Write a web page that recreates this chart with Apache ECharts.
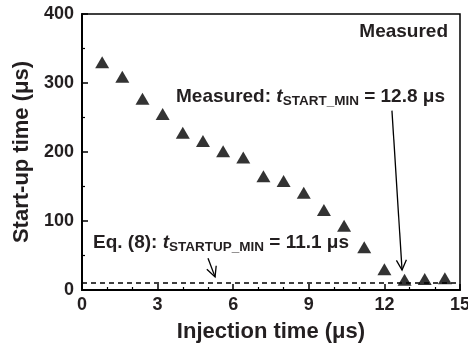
<!DOCTYPE html>
<html><head><meta charset="utf-8">
<script src="https://cdn.jsdelivr.net/npm/echarts@6/dist/echarts.min.js"></script>
<style>html,body{margin:0;padding:0;background:#fff}#c{width:468px;height:347px}</style>
</head><body><div id="c"></div>
<script>
// ---- data ----
const injectionTime = [0.8, 1.6, 2.4, 3.2, 4.0, 4.8, 5.6, 6.4, 7.2, 8.0, 8.8, 9.6, 10.4, 11.2, 12.0, 12.8, 13.6, 14.4];
const startupTime   = [330, 309, 277, 255, 228, 216, 201, 192, 165, 158, 141, 116, 93, 62, 30, 15, 16, 17];
const eq8Level = 11.1;
const xRange = [0, 15, 3];
const yRange = [0, 400, 100];
// annotation anchors (data coords)
const measuredArrow = [[12.3, 260], [12.7, 29]];
const eqArrow = [[5.0, 46], [5.28, 19]];

const FONT = "'Liberation Sans', Arial, sans-serif";
const TXT = '#231f20';
const chart = echarts.init(document.getElementById('c'), null, {renderer: 'canvas'});

const option = {
  animation: false,
  grid: {left: 82, right: 8, top: 14, bottom: 57, containLabel: false, outerBoundsMode: 'none',
         show: true, borderColor: '#000', borderWidth: 1.5, backgroundColor: 'transparent'},
  xAxis: {
    type: 'value', min: xRange[0], max: xRange[1], interval: xRange[2],
    name: 'Injection time (μs)', nameLocation: 'middle', nameGap: 31,
    nameTextStyle: {fontFamily: FONT, fontWeight: 'bold', fontSize: 22, color: TXT},
    axisLine: {show: true, onZero: false, lineStyle: {color: '#000', width: 2}},
    axisTick: {show: true, inside: true, length: 6, lineStyle: {color: '#000', width: 1.5}},
    minorTick: {show: true, splitNumber: 3, length: 3, lineStyle: {color: '#000', width: 1.2}},
    splitLine: {show: false},
    axisLabel: {fontFamily: FONT, fontWeight: 'bold', fontSize: 18, color: TXT, margin: 6}
  },
  yAxis: {
    type: 'value', min: yRange[0], max: yRange[1], interval: yRange[2],
    name: 'Start-up time (μs)', nameLocation: 'middle', nameGap: 48,
    nameTextStyle: {fontFamily: FONT, fontWeight: 'bold', fontSize: 22, color: TXT},
    axisLine: {show: true, onZero: false, lineStyle: {color: '#000', width: 2}},
    axisTick: {show: true, inside: true, length: 6, lineStyle: {color: '#000', width: 1.5}},
    minorTick: {show: true, splitNumber: 2, length: 3, lineStyle: {color: '#000', width: 1.2}},
    splitLine: {show: false},
    axisLabel: {fontFamily: FONT, fontWeight: 'bold', fontSize: 18, color: TXT, margin: 8}
  },
  series: [{
    type: 'scatter',
    data: injectionTime.map((x, i) => [x, startupTime[i]]),
    symbol: 'triangle', symbolSize: [14, 12],
    itemStyle: {color: '#000'},
    z: 5,
    markLine: {
      silent: true, symbol: 'none', label: {show: false},
      lineStyle: {color: '#000', type: [5, 4], width: 1.5},
      data: [{yAxis: eq8Level}]
    }
  }]
};
chart.setOption(option);

function px(p) { return chart.convertToPixel({gridIndex: 0}, p); }
function arrow(a, b) {
  const p0 = px(a), p1 = px(b);
  const dx = p1[0] - p0[0], dy = p1[1] - p0[1];
  const L = Math.hypot(dx, dy), ux = dx / L, uy = dy / L;
  const hl = 10, hw = 5;
  const bx = p1[0] - ux * hl, by = p1[1] - uy * hl;
  const w1 = [bx - uy * hw, by + ux * hw], w2 = [bx + uy * hw, by - ux * hw];
  return [
    {type: 'polyline', shape: {points: [p0, p1]}, style: {stroke: '#000', lineWidth: 1.3, fill: null}, z: 10},
    {type: 'polyline', shape: {points: [w1, p1, w2]}, style: {stroke: '#000', lineWidth: 1.3, fill: null}, z: 10}
  ];
}
const rich = {
  m: {fontFamily: FONT, fontWeight: 'bold', fontSize: 19, lineHeight: 23, fill: TXT},
  t: {fontFamily: FONT, fontWeight: 'bold', fontStyle: 'italic', fontSize: 19, lineHeight: 23, fill: TXT},
  s: {fontFamily: FONT, fontWeight: 'bold', fontSize: 13.5, lineHeight: 13, verticalAlign: 'bottom', fill: TXT}
};
chart.setOption({
  graphic: [
    {type: 'text', right: 20, top: 22, style: {text: 'Measured', font: "bold 19px " + FONT, fill: TXT}, z: 10},
    {type: 'text', left: 176, top: 87, style: {text: '{m|Measured: }{t|t}{s|START_MIN}{m| = 12.8 μs}', rich: rich}, z: 10},
    {type: 'text', left: 93, top: 233, style: {text: '{m|Eq. (8): }{t|t}{s|STARTUP_MIN}{m| = 11.1 μs}', rich: rich}, z: 10},
    ...arrow(measuredArrow[0], measuredArrow[1]),
    ...arrow(eqArrow[0], eqArrow[1])
  ]
});
</script></body></html>
